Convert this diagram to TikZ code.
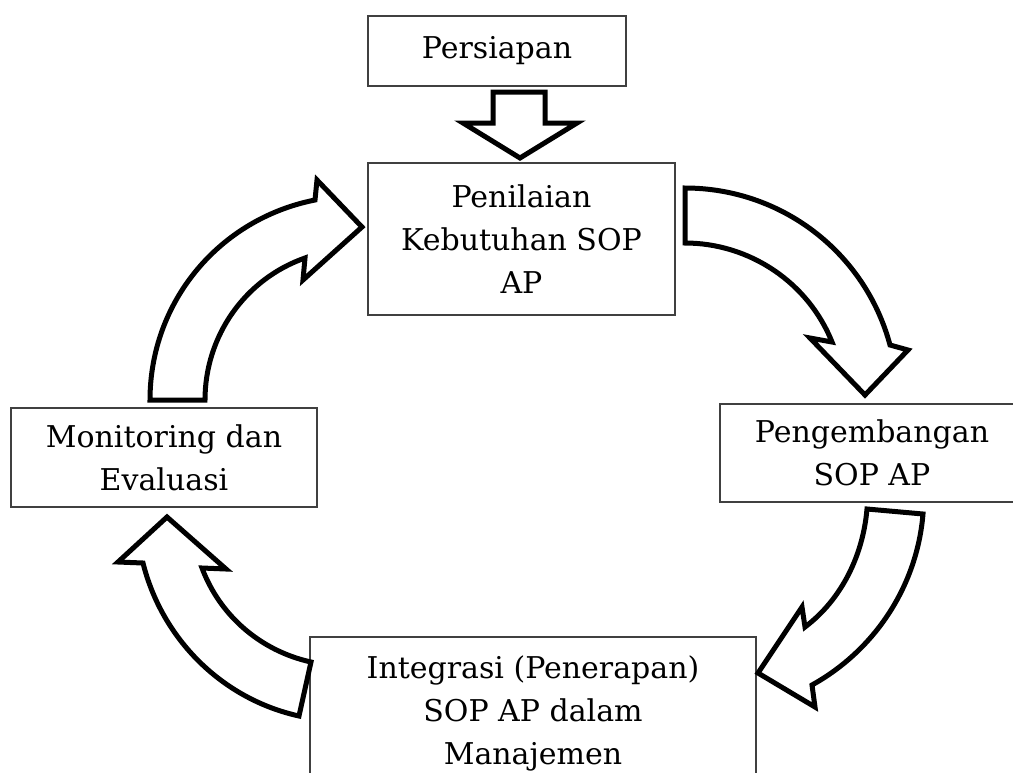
\documentclass[tikz,border=0pt]{standalone}
\usepackage{fontspec}
\setmainfont{DejaVu Serif}
\begin{document}
\begin{tikzpicture}[x=1pt, y=-1pt,
    stagebox/.style={draw=black!75, line width=1.3pt, align=center, inner sep=0pt,
      font=\fontsize{30}{43}\selectfont},
    blockarrow/.style={draw=black, fill=white, line width=5pt, line join=miter}]
  \useasboundingbox (0,0) rectangle (1013,772);
  \clip (0,0) rectangle (1013,772);

  % stages of the cycle
  \node[stagebox, minimum width=258pt, minimum height=70pt] (prep) at (497,51) {Persiapan};
  \node[stagebox, minimum width=307pt, minimum height=152pt] (need) at (521.5,239) {Penilaian\\Kebutuhan SOP\\AP};
  \node[stagebox, minimum width=304pt, minimum height=98pt] (dev) at (872,453) {Pengembangan\\SOP AP};
  \node[stagebox, minimum width=446pt, minimum height=152pt] (intg) at (533,713) {Integrasi (Penerapan)\\SOP AP dalam\\Manajemen};
  \node[stagebox, minimum width=306pt, minimum height=99pt] (monev) at (164,457.5) {Monitoring dan\\Evaluasi};

  % block arrows
  \draw[blockarrow] (493,92) -- (545,92) -- (545,123) -- (577,123) -- (520,158) -- (463,123) -- (493,123) -- cycle;
  \draw[blockarrow] (685,188) .. controls (781,188) and (865,252) .. (890,345) -- (908,350) -- (865,395)
    -- (810,338) -- (832,342) .. controls (808,282) and (749,243) .. (685,243) -- cycle;
  \draw[blockarrow] (923,514) .. controls (917,586) and (875,650) .. (812,685) -- (815,707) -- (758,673)
    -- (802,607) -- (805,627) .. controls (842,599) and (863,555) .. (867,509) -- cycle;
  \draw[blockarrow] (299,716) .. controls (222,699) and (162,639) .. (143,563) -- (118,562) -- (167,517)
    -- (226,569) -- (202,568) .. controls (220,616) and (261,651) .. (311,662) -- cycle;
  \draw[blockarrow] (150,400) .. controls (150,302) and (219,219) .. (315,200) -- (317,180) -- (362,227)
    -- (303,280) -- (305,258) .. controls (245,279) and (205,336) .. (205,400) -- cycle;
\end{tikzpicture}
\end{document}
